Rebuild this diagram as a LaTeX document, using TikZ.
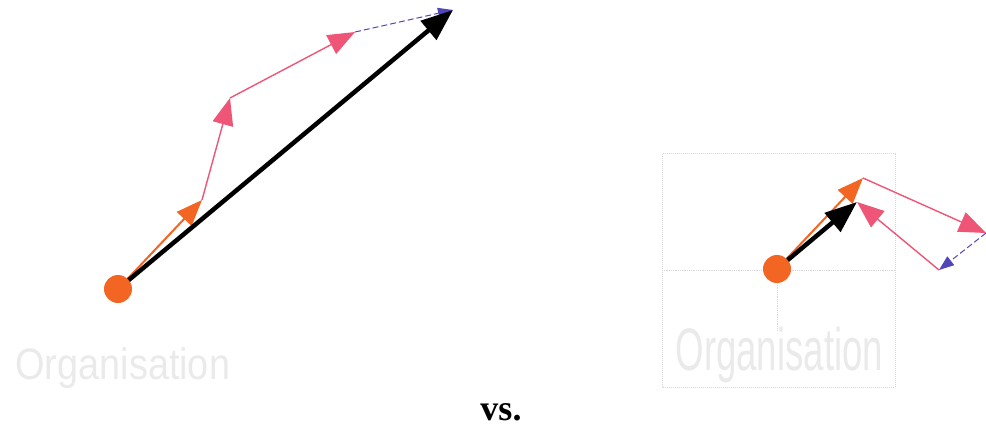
\documentclass[tikz,border=0pt]{standalone}
\usepackage{fontspec}
\newfontfamily\labelfont{Liberation Sans}
\newfontfamily\vsfont{Liberation Serif}
\usetikzlibrary{arrows.meta}

\definecolor{vorange}{HTML}{F26522}
\definecolor{vpink}{HTML}{EE5577}
\definecolor{vblue}{HTML}{5046B8}
\definecolor{vgrid}{HTML}{D8D8D8}

\tikzset{
  dot/.style={circle, fill=vorange, inner sep=0pt, minimum size=28pt},
  orangevec/.style={draw=vorange, line width=2pt, -{Triangle[length=26pt,width=20pt]}},
  pinkvec/.style={draw=vpink, line width=1.4pt, -{Triangle[length=27pt,width=21pt]}},
  bluevec/.style={draw=vblue, line width=1pt, dash pattern=on 6pt off 3pt, -{Triangle[length=15pt,width=11pt]}},
  sumvec/.style={draw=black, line width=4.5pt, -{Triangle[length=32pt,width=24pt]}},
  orgtext/.style={text=vgrid!55, font=\labelfont}
}

\begin{document}
\begin{tikzpicture}[x=1pt,y=-1pt]
\useasboundingbox (0,0) rectangle (986,433);

% left: vectors add up
\coordinate (cL) at (118,289);
\coordinate (aL) at (202,200);
\coordinate (bL) at (230,98);
\coordinate (dL) at (355,32);
\coordinate (eL) at (453,10);
\draw[orangevec] (cL) -- (aL);
\draw[pinkvec] (aL) -- (bL);
\draw[pinkvec] (bL) -- (dL);
\draw[bluevec] (dL) -- (eL);
\draw[sumvec] (cL) -- (eL);
\node[dot] (dotL) at (cL) {};
\node[orgtext, anchor=west] (orgL) at (12,368) {\fontsize{44}{44}\selectfont\scalebox{0.86}[1]{Organisation}};

% right: vectors cancel
\draw[vgrid, densely dotted, line width=1pt] (662,154) rectangle (895,387);
\draw[vgrid, densely dotted, line width=0.8pt] (662,270) -- (895,270);
\draw[vgrid, densely dotted, line width=0.8pt] (777,283) -- (777,330);
\coordinate (cR) at (777,269);
\coordinate (aR) at (863,178);
\coordinate (bR) at (986,233);
\coordinate (dR) at (939,270);
\coordinate (eR) at (857,202);
\draw[orangevec] (cR) -- (aR);
\draw[pinkvec] (aR) -- (bR);
\draw[bluevec] (bR) -- (dR);
\draw[pinkvec] (dR) -- (eR);
\draw[sumvec] (cR) -- (eR);
\node[dot] (dotR) at (cR) {};
\node[orgtext, anchor=west] (orgR) at (672,355) {\fontsize{60}{60}\selectfont\scalebox{0.61}[1]{Organisation}};

\node (vs) at (501,412) {\vsfont\bfseries\fontsize{36}{36}\selectfont vs.};
\end{tikzpicture}
\end{document}
